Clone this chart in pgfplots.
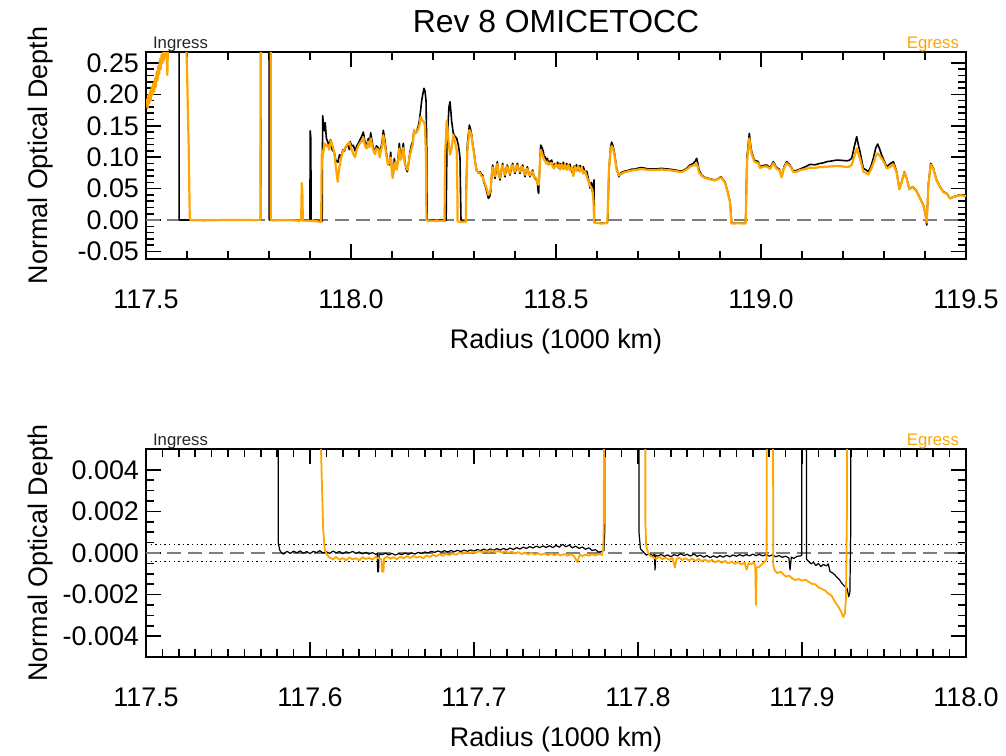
\documentclass[border=0pt]{standalone}
\usepackage{fontspec}
\setmainfont{Liberation Sans}
\usepackage{pgfplots}
\usepackage{pgfplotstable}
\pgfplotsset{compat=1.18}
\definecolor{egr}{RGB}{255,165,0}
\definecolor{zgray}{RGB}{125,125,125}

\pgfplotstableread{
r t
117.5000 0.40
117.5806 0.40
117.5807 0.00047
117.5815 0.00015
117.5825 0.00002
117.5837 -0.00005
117.5860 0.00008
117.5880 -0.00002
117.5900 0.00009
117.5920 0.00001
117.5940 0.00010
117.5960 -0.00001
117.5980 0.00007
117.6000 -0.00003
117.6020 0.00008
117.6040 0.00002
117.6060 0.00011
117.6080 0.00000
117.6100 0.00006
117.6120 -0.00002
117.6140 0.00009
117.6160 0.00001
117.6180 0.00007
117.6200 -0.00003
117.6220 0.00006
117.6240 0.00000
117.6260 0.00008
117.6280 -0.00002
117.6300 0.00005
117.6320 -0.00004
117.6340 0.00003
117.6360 -0.00005
117.6380 0.00002
117.6400 -0.00006
117.6410 -0.00002
117.6413 -0.00090
117.6418 -0.00090
117.6421 -0.00004
117.6440 -0.00008
117.6460 -0.00001
117.6480 -0.00009
117.6500 -0.00002
117.6520 -0.00010
117.6540 -0.00003
117.6560 -0.00008
117.6580 0.00000
117.6600 -0.00007
117.6620 0.00001
117.6640 -0.00005
117.6660 0.00003
117.6680 -0.00003
117.6700 0.00005
117.6720 0.00000
117.6740 0.00008
117.6760 0.00003
117.6780 0.00010
117.6800 0.00004
117.6820 0.00011
117.6840 0.00005
117.6860 0.00012
117.6880 0.00006
117.6900 0.00013
117.6920 0.00007
117.6940 0.00014
117.6960 0.00008
117.6980 0.00015
117.7000 0.00009
117.7020 0.00017
117.7040 0.00011
117.7060 0.00019
117.7080 0.00012
117.7100 0.00020
117.7120 0.00013
117.7140 0.00021
117.7160 0.00014
117.7180 0.00022
117.7200 0.00015
117.7220 0.00024
117.7240 0.00017
117.7260 0.00026
117.7280 0.00019
117.7300 0.00028
117.7320 0.00022
117.7340 0.00031
117.7360 0.00024
117.7380 0.00033
117.7400 0.00026
117.7420 0.00034
117.7440 0.00027
117.7460 0.00035
117.7480 0.00026
117.7500 0.00036
117.7520 0.00028
117.7540 0.00042
117.7560 0.00030
117.7580 0.00038
117.7600 0.00025
117.7620 0.00033
117.7640 0.00022
117.7660 0.00029
117.7680 0.00018
117.7700 0.00025
117.7720 0.00012
117.7740 0.00016
117.7760 0.00004
117.7780 0.00008
117.7792 0.00012
117.7797 0.0010
117.7800 0.30
117.8004 0.30
117.8006 0.0010
117.8015 0.00020
117.8032 0.00006
117.8050 -0.00010
117.8070 -0.00004
117.8090 -0.00013
117.8100 -0.00006
117.8104 -0.00082
117.8108 -0.00010
117.8120 -0.00015
117.8140 -0.00007
117.8160 -0.00016
117.8180 -0.00009
117.8200 -0.00018
117.8220 -0.00008
117.8240 -0.00014
117.8260 -0.00003
117.8280 -0.00012
117.8300 -0.00006
117.8320 -0.00015
117.8340 -0.00004
117.8360 -0.00016
117.8380 -0.00010
117.8400 -0.00020
117.8420 -0.00012
117.8440 -0.00022
117.8460 -0.00014
117.8480 -0.00021
117.8500 -0.00013
117.8520 -0.00020
117.8540 -0.00011
117.8560 -0.00018
117.8580 -0.00009
117.8600 -0.00016
117.8620 -0.00008
117.8640 -0.00015
117.8660 -0.00007
117.8680 -0.00014
117.8700 -0.00005
117.8720 -0.00013
117.8740 -0.00006
117.8760 -0.00014
117.8780 -0.00008
117.8800 -0.00015
117.8820 -0.00009
117.8840 -0.00018
117.8860 -0.00012
117.8880 -0.00021
117.8900 -0.00015
117.8920 -0.00024
117.8927 -0.00082
117.8935 -0.00020
117.8950 -0.00026
117.8970 -0.00016
117.8990 -0.00014
117.8998 -0.00010
117.9005 0.142
117.9020 0.130
117.9028 -0.00030
117.9040 -0.00040
117.9055 -0.00052
117.9070 -0.00045
117.9085 -0.00060
117.9100 -0.00050
117.9115 -0.00065
117.9130 -0.00055
117.9150 -0.00062
117.9160 -0.00052
117.9171 -0.00090
117.9185 -0.00095
117.9200 -0.00105
117.9215 -0.00118
117.9230 -0.00130
117.9245 -0.00148
117.9260 -0.00160
117.9275 -0.00170
117.9285 -0.00210
117.9292 -0.00190
117.9297 0.00100
117.9300 0.060
117.9310 0.166
117.9330 0.150
117.9350 0.142
117.9370 0.155
117.9400 0.130
117.9430 0.125
117.9460 0.118
117.9500 0.128
117.9540 0.112
117.9590 0.108
117.9630 0.095
117.9680 0.092
117.9720 0.104
117.9760 0.100
117.9800 0.112
117.9840 0.110
117.9880 0.118
117.9920 0.121
117.9960 0.112
117.9976 0.125
118.0020 0.118
118.0057 0.119
118.0098 0.110
118.0140 0.118
118.0179 0.122
118.0220 0.128
118.0260 0.133
118.0301 0.140
118.0342 0.124
118.0382 0.119
118.0423 0.130
118.0450 0.120
118.0480 0.139
118.0529 0.119
118.0560 0.112
118.0586 0.109
118.0620 0.118
118.0667 0.115
118.0700 0.104
118.0724 0.113
118.0760 0.125
118.0789 0.143
118.0830 0.125
118.0870 0.104
118.0900 0.092
118.0935 0.088
118.0968 0.108
118.1000 0.080
118.1030 0.072
118.1057 0.098
118.1085 0.085
118.1114 0.082
118.1150 0.100
118.1179 0.122
118.1210 0.098
118.1236 0.104
118.1277 0.122
118.1310 0.095
118.1342 0.082
118.1374 0.077
118.1405 0.090
118.1439 0.109
118.1470 0.118
118.1504 0.125
118.1537 0.143
118.1570 0.138
118.1602 0.141
118.1643 0.150
118.1667 0.158
118.1700 0.176
118.1724 0.190
118.1750 0.200
118.1781 0.2097
118.1805 0.205
118.1830 0.190
118.1846 0.120
118.1856 0.000
118.1900 -0.0010
118.2000 0.0005
118.2100 -0.0005
118.2200 0.0005
118.2300 -0.0010
118.2320 0.0000
118.2340 0.120
118.2390 0.180
118.2415 0.1884
118.2440 0.170
118.2456 0.1566
118.2496 0.1380
118.2537 0.1330
118.2578 0.1301
118.2618 0.1194
118.2640 0.110
118.2659 0.0982
118.2670 0.050
118.2683 0.0000
118.2750 -0.0020
118.2800 -0.0010
118.2810 0.050
118.2838 0.120
118.2887 0.1513
118.2915 0.145
118.2943 0.1354
118.2970 0.120
118.3000 0.1088
118.3030 0.092
118.3065 0.0796
118.3105 0.075
118.3147 0.0770
118.3180 0.073
118.3211 0.0717
118.3240 0.060
118.3268 0.0557
118.3300 0.048
118.3350 0.0345
118.3380 0.037
118.3407 0.0451
118.3430 0.070
118.3455 0.0876
118.3485 0.078
118.3512 0.0663
118.3540 0.080
118.3569 0.0929
118.3600 0.075
118.3634 0.0637
118.3665 0.078
118.3699 0.0902
118.3725 0.080
118.3756 0.0690
118.3785 0.080
118.3813 0.0876
118.3845 0.080
118.3878 0.0717
118.3910 0.082
118.3943 0.0902
118.3970 0.081
118.4000 0.0743
118.4030 0.083
118.4057 0.0902
118.4090 0.082
118.4122 0.0743
118.4155 0.083
118.4187 0.0876
118.4215 0.078
118.4244 0.0690
118.4270 0.078
118.4301 0.0849
118.4335 0.075
118.4366 0.0690
118.4400 0.075
118.4431 0.0796
118.4460 0.070
118.4488 0.0663
118.4520 0.064
118.4545 0.0610
118.4565 0.045
118.4577 0.0425
118.4600 0.080
118.4626 0.1194
118.4660 0.115
118.4691 0.1088
118.4710 0.100
118.4732 0.1008
118.4760 0.095
118.4789 0.0982
118.4815 0.092
118.4838 0.0929
118.4865 0.094
118.4895 0.0955
118.4925 0.087
118.4952 0.0849
118.4976 0.0900
118.5000 0.0860
118.5040 0.092
118.5080 0.082
118.5100 0.090
118.5139 0.084
118.5180 0.092
118.5220 0.082
118.5260 0.090
118.5301 0.083
118.5340 0.089
118.5383 0.078
118.5423 0.072
118.5445 0.086
118.5464 0.082
118.5500 0.088
118.5545 0.079
118.5585 0.087
118.5626 0.080
118.5665 0.085
118.5708 0.076
118.5748 0.078
118.5789 0.066
118.5830 0.051
118.5860 0.060
118.5887 0.045
118.5927 0.064
118.5935 0.0000
118.5952 -0.0045
118.6100 -0.0050
118.6250 -0.0045
118.6260 0.000
118.6293 0.080
118.6330 0.115
118.6358 0.124
118.6390 0.118
118.6423 0.108
118.6480 0.082
118.6537 0.069
118.6570 0.074
118.6602 0.0759
118.6680 0.078
118.6765 0.079
118.6850 0.081
118.6927 0.0812
118.7000 0.0825
118.7090 0.0835
118.7170 0.0825
118.7252 0.0812
118.7330 0.0815
118.7415 0.0812
118.7500 0.0818
118.7577 0.0823
118.7660 0.0815
118.7740 0.0812
118.7820 0.0805
118.7903 0.0796
118.8000 0.0785
118.8065 0.0780
118.8130 0.080
118.8187 0.0823
118.8268 0.0876
118.8350 0.0902
118.8400 0.094
118.8431 0.0982
118.8460 0.090
118.8488 0.0796
118.8553 0.0717
118.8630 0.068
118.8716 0.0663
118.8800 0.065
118.8878 0.0637
118.8960 0.0663
118.9025 0.0690
118.9080 0.064
118.9122 0.0610
118.9187 0.0451
118.9244 0.0292
118.9268 0.010
118.9285 -0.0050
118.9450 -0.0048
118.9620 -0.0050
118.9626 0.000
118.9659 0.100
118.9716 0.138
118.9745 0.120
118.9773 0.1088
118.9838 0.0955
118.9935 0.0929
118.9976 0.0849
119.0060 0.087
119.0139 0.0876
119.0220 0.0833
119.0301 0.0929
119.0383 0.0833
119.0448 0.0812
119.0504 0.0690
119.0561 0.0849
119.0626 0.0929
119.0708 0.0876
119.0789 0.0780
119.0870 0.0790
119.0952 0.0812
119.1070 0.0845
119.1195 0.0886
119.1320 0.0880
119.1439 0.0902
119.1520 0.0910
119.1602 0.0929
119.1720 0.0940
119.1846 0.0955
119.1970 0.0950
119.2090 0.0943
119.2150 0.0950
119.2212 0.0982
119.2269 0.115
119.2334 0.1327
119.2380 0.118
119.2415 0.1088
119.2496 0.0823
119.2560 0.080
119.2618 0.0770
119.2680 0.085
119.2740 0.0982
119.2800 0.115
119.2846 0.1210
119.2900 0.112
119.2943 0.1035
119.3000 0.095
119.3065 0.0849
119.3163 0.0902
119.3228 0.0929
119.3270 0.085
119.3309 0.0770
119.3374 0.0494
119.3431 0.0610
119.3496 0.0770
119.3553 0.0663
119.3618 0.0494
119.3699 0.0531
119.3781 0.0478
119.3862 0.0371
119.3960 0.0239
119.4008 0.0106
119.4041 -0.0080
119.4081 0.0557
119.4138 0.0902
119.4203 0.0823
119.4285 0.0637
119.4366 0.0531
119.4447 0.0451
119.4528 0.0425
119.4610 0.0345
119.4691 0.0371
119.4854 0.0398
119.5000 0.0387
}\ingress

\pgfplotstableread{
r t
117.5000 0.182
117.5020 0.192
117.5040 0.178
117.5060 0.199
117.5080 0.186
117.5100 0.205
117.5120 0.190
117.5140 0.212
117.5160 0.200
117.5180 0.218
117.5200 0.204
117.5220 0.226
117.5240 0.212
117.5260 0.236
117.5280 0.222
117.5300 0.245
117.5320 0.232
117.5340 0.256
117.5360 0.240
117.5380 0.263
117.5400 0.250
117.5420 0.268
117.5440 0.255
117.5460 0.272
117.5480 0.262
117.5500 0.285
117.5520 0.231
117.5540 0.290
117.5560 0.330
117.5960 0.330
117.6000 0.240
117.6040 0.120
117.6067 0.0050
117.6080 0.0012
117.6090 0.00015
117.6105 -0.00010
117.6120 -0.00022
117.6140 -0.00030
117.6160 -0.00019
117.6180 -0.00033
117.6200 -0.00024
117.6220 -0.00036
117.6240 -0.00021
117.6260 -0.00031
117.6280 -0.00025
117.6300 -0.00035
117.6320 -0.00020
117.6340 -0.00029
117.6360 -0.00023
117.6380 -0.00032
117.6400 -0.00019
117.6420 -0.00027
117.6436 -0.00030
117.6440 -0.00090
117.6448 -0.00090
117.6452 -0.00025
117.6470 -0.00018
117.6490 -0.00028
117.6510 -0.00020
117.6530 -0.00030
117.6550 -0.00017
117.6570 -0.00026
117.6590 -0.00015
117.6610 -0.00024
117.6630 -0.00013
117.6650 -0.00022
117.6670 -0.00016
117.6690 -0.00026
117.6710 -0.00012
117.6730 -0.00019
117.6750 -0.00008
117.6770 -0.00016
117.6790 -0.00006
117.6810 -0.00013
117.6830 -0.00004
117.6850 -0.00011
117.6870 -0.00002
117.6890 -0.00009
117.6910 0.00002
117.6930 -0.00004
117.6950 0.00004
117.6970 -0.00002
117.6990 0.00006
117.7010 0.00001
117.7030 0.00009
117.7050 0.00003
117.7070 0.00011
117.7090 0.00004
117.7110 0.00012
117.7130 0.00005
117.7150 0.00010
117.7170 0.00002
117.7190 0.00009
117.7210 0.00000
117.7230 0.00007
117.7250 -0.00002
117.7270 0.00004
117.7290 -0.00005
117.7310 0.00002
117.7330 -0.00007
117.7350 0.00001
117.7370 -0.00008
117.7390 -0.00001
117.7410 -0.00009
117.7430 -0.00002
117.7450 -0.00010
117.7470 -0.00003
117.7490 -0.00011
117.7510 -0.00004
117.7530 -0.00012
117.7550 -0.00005
117.7570 -0.00013
117.7590 -0.00006
117.7610 -0.00014
117.7630 -0.00044
117.7645 -0.00008
117.7660 -0.00015
117.7680 -0.00007
117.7700 -0.00013
117.7720 -0.00006
117.7740 -0.00012
117.7760 -0.00005
117.7780 -0.00009
117.7788 0.00020
117.7792 0.0015
117.7800 0.30
117.8040 0.30
117.8045 0.0015
117.8050 0.00035
117.8060 0.00005
117.8073 -0.00013
117.8090 -0.00020
117.8110 -0.00028
117.8130 -0.00018
117.8150 -0.00030
117.8170 -0.00022
117.8190 -0.00033
117.8210 -0.00024
117.8225 -0.00070
117.8235 -0.00030
117.8250 -0.00022
117.8270 -0.00034
117.8290 -0.00025
117.8310 -0.00036
117.8330 -0.00027
117.8350 -0.00038
117.8370 -0.00028
117.8390 -0.00040
117.8410 -0.00031
117.8430 -0.00043
117.8450 -0.00033
117.8470 -0.00045
117.8490 -0.00036
117.8510 -0.00047
117.8530 -0.00038
117.8550 -0.00050
117.8570 -0.00040
117.8590 -0.00052
117.8610 -0.00043
117.8630 -0.00055
117.8650 -0.00046
117.8662 -0.00080
117.8675 -0.00048
117.8690 -0.00054
117.8705 -0.00045
117.8715 -0.00060
117.8719 -0.00250
117.8723 -0.00070
117.8740 -0.00066
117.8760 -0.00050
117.8775 -0.00040
117.8784 -0.00030
117.8800 0.059
117.8815 0.040
117.8825 -0.00060
117.8835 -0.00085
117.8850 -0.00097
117.8870 -0.00090
117.8890 -0.00105
117.8906 -0.00114
117.8920 -0.00108
117.8940 -0.00122
117.8960 -0.00130
117.8980 -0.00125
117.9000 -0.00133
117.9020 -0.00128
117.9040 -0.00138
117.9060 -0.00148
117.9080 -0.00150
117.9100 -0.00165
117.9120 -0.00172
117.9140 -0.00180
117.9160 -0.00195
117.9180 -0.00205
117.9195 -0.00226
117.9210 -0.00245
117.9225 -0.00262
117.9240 -0.00285
117.9252 -0.00308
117.9262 -0.00290
117.9268 -0.00220
117.9274 0.00200
117.9280 0.060
117.9290 0.110
117.9310 0.100
117.9350 0.122
117.9390 0.118
117.9430 0.120
117.9470 0.112
117.9510 0.127
117.9550 0.118
117.9590 0.108
117.9630 0.085
117.9675 0.061
117.9710 0.082
117.9756 0.098
117.9800 0.110
117.9837 0.112
117.9880 0.118
117.9919 0.120
117.9960 0.124
118.0000 0.115
118.0057 0.105
118.0098 0.100
118.0140 0.112
118.0179 0.118
118.0220 0.123
118.0260 0.125
118.0301 0.132
118.0342 0.118
118.0382 0.114
118.0423 0.125
118.0450 0.116
118.0480 0.130
118.0529 0.115
118.0560 0.108
118.0586 0.105
118.0620 0.114
118.0667 0.112
118.0700 0.100
118.0724 0.108
118.0760 0.118
118.0789 0.135
118.0830 0.118
118.0870 0.100
118.0900 0.088
118.0935 0.092
118.0968 0.100
118.1000 0.075
118.1017 0.067
118.1057 0.090
118.1085 0.092
118.1114 0.080
118.1150 0.095
118.1179 0.114
118.1210 0.096
118.1236 0.100
118.1277 0.115
118.1310 0.090
118.1342 0.085
118.1374 0.080
118.1405 0.092
118.1439 0.104
118.1470 0.112
118.1504 0.120
118.1537 0.143
118.1570 0.138
118.1602 0.140
118.1643 0.145
118.1667 0.150
118.1700 0.1645
118.1724 0.160
118.1748 0.158
118.1781 0.156
118.1805 0.150
118.1830 0.100
118.1840 0.000
118.1900 -0.0015
118.2000 -0.0010
118.2100 -0.0015
118.2200 -0.0012
118.2280 -0.0015
118.2293 0.100
118.2334 0.158
118.2374 0.128
118.2415 0.104
118.2456 0.115
118.2496 0.1354
118.2537 0.1248
118.2578 0.110
118.2594 0.050
118.2600 -0.0020
118.2700 -0.0030
118.2800 -0.0030
118.2810 0.040
118.2838 0.110
118.2887 0.1433
118.2915 0.140
118.2943 0.132
118.2970 0.118
118.3000 0.106
118.3030 0.090
118.3065 0.078
118.3105 0.076
118.3147 0.0750
118.3180 0.070
118.3211 0.0690
118.3240 0.062
118.3268 0.0580
118.3300 0.052
118.3350 0.040
118.3380 0.043
118.3407 0.050
118.3430 0.072
118.3455 0.084
118.3485 0.075
118.3512 0.070
118.3540 0.084
118.3569 0.089
118.3600 0.072
118.3634 0.067
118.3665 0.082
118.3699 0.087
118.3725 0.076
118.3756 0.072
118.3785 0.084
118.3813 0.085
118.3845 0.076
118.3878 0.074
118.3910 0.086
118.3943 0.087
118.3970 0.078
118.4000 0.077
118.4030 0.086
118.4057 0.087
118.4090 0.079
118.4122 0.077
118.4155 0.085
118.4187 0.084
118.4215 0.075
118.4244 0.072
118.4270 0.080
118.4301 0.082
118.4335 0.073
118.4366 0.071
118.4400 0.077
118.4431 0.077
118.4460 0.068
118.4488 0.068
118.4520 0.066
118.4545 0.058
118.4577 0.056
118.4600 0.078
118.4626 0.112
118.4660 0.106
118.4691 0.100
118.4710 0.096
118.4732 0.095
118.4760 0.090
118.4789 0.093
118.4815 0.088
118.4838 0.090
118.4865 0.089
118.4895 0.091
118.4925 0.084
118.4952 0.082
118.4976 0.086
118.5000 0.090
118.5040 0.084
118.5080 0.088
118.5100 0.080
118.5139 0.089
118.5180 0.081
118.5220 0.089
118.5260 0.080
118.5301 0.088
118.5340 0.079
118.5383 0.084
118.5423 0.070
118.5445 0.080
118.5464 0.085
118.5500 0.078
118.5545 0.086
118.5585 0.077
118.5626 0.084
118.5665 0.074
118.5708 0.078
118.5748 0.070
118.5789 0.062
118.5830 0.055
118.5860 0.052
118.5887 0.048
118.5915 0.030
118.5930 -0.0040
118.6100 -0.0055
118.6240 -0.0050
118.6255 0.000
118.6290 0.078
118.6330 0.110
118.6358 0.118
118.6390 0.114
118.6423 0.104
118.6480 0.080
118.6537 0.071
118.6570 0.072
118.6602 0.0740
118.6680 0.0765
118.6765 0.0775
118.6850 0.0790
118.6927 0.0795
118.7000 0.0805
118.7090 0.0812
118.7170 0.0805
118.7252 0.0795
118.7330 0.0798
118.7415 0.0795
118.7500 0.0800
118.7577 0.0805
118.7660 0.0798
118.7740 0.0795
118.7820 0.0788
118.7903 0.0780
118.8000 0.0770
118.8065 0.0765
118.8130 0.0785
118.8187 0.0805
118.8268 0.0850
118.8350 0.0870
118.8400 0.087
118.8431 0.090
118.8460 0.084
118.8488 0.0760
118.8553 0.0705
118.8630 0.067
118.8716 0.0655
118.8800 0.064
118.8878 0.0630
118.8960 0.0655
118.9025 0.0680
118.9080 0.063
118.9122 0.0600
118.9187 0.0445
118.9244 0.0285
118.9262 0.010
118.9278 -0.0055
118.9450 -0.0052
118.9620 -0.0055
118.9628 0.000
118.9662 0.095
118.9716 0.130
118.9745 0.115
118.9773 0.1050
118.9838 0.0930
118.9935 0.0905
118.9976 0.0830
119.0060 0.085
119.0139 0.0855
119.0220 0.0815
119.0301 0.0905
119.0383 0.0815
119.0448 0.0795
119.0504 0.0680
119.0561 0.0830
119.0626 0.0905
119.0708 0.0860
119.0789 0.0765
119.0870 0.0770
119.0952 0.0796
119.1070 0.0810
119.1195 0.0833
119.1320 0.0830
119.1439 0.0844
119.1520 0.0845
119.1602 0.0849
119.1720 0.0855
119.1846 0.0860
119.1970 0.0855
119.2090 0.0844
119.2150 0.0850
119.2212 0.0876
119.2269 0.100
119.2334 0.1141
119.2380 0.105
119.2415 0.0982
119.2496 0.0770
119.2560 0.075
119.2618 0.0727
119.2680 0.080
119.2740 0.0902
119.2800 0.102
119.2846 0.1062
119.2900 0.102
119.2943 0.0982
119.3000 0.092
119.3065 0.0823
119.3163 0.0849
119.3228 0.0886
119.3270 0.082
119.3309 0.0750
119.3374 0.0494
119.3431 0.0600
119.3496 0.0760
119.3553 0.0655
119.3618 0.0490
119.3699 0.0525
119.3781 0.0470
119.3862 0.0365
119.3960 0.0230
119.4008 0.0110
119.4041 -0.0040
119.4081 0.0530
119.4138 0.0880
119.4203 0.0810
119.4285 0.0625
119.4366 0.0525
119.4447 0.0445
119.4528 0.0420
119.4610 0.0340
119.4691 0.0365
119.4854 0.0395
119.5000 0.0385
}\egress

\pgfplotsset{
  occ/.style={
    scale only axis,
    width=410bp,
    axis line style={line width=1bp},
    tick style={black, line width=0.8bp},
    major tick length=7.5bp,
    minor tick length=4bp,
    tick align=inside,
    scaled ticks=false,
    /pgf/number format/assume math mode=true,
    /pgf/number format/1000 sep={},
    tick label style={font=\fontsize{13.5}{15}\selectfont},
    xticklabel style={anchor=base, yshift=-24.5bp,
      /pgf/number format/fixed, /pgf/number format/fixed zerofill, /pgf/number format/precision=1},
    label style={font=\fontsize{13.5}{15}\selectfont},
    xlabel={Radius (1000 km)},
    ylabel={Normal Optical Depth},
    xlabel style={at={(axis description cs:0.5,0)}, anchor=base, yshift=-44.5bp},
    ylabel style={at={(axis description cs:-0.128,0.5)}, anchor=center},
  },
  blk/.style={black, line width=0.8bp, line join=round},
  org/.style={egr, line width=1.1bp, line join=round},
}

\begin{document}
\begin{tikzpicture}
\useasboundingbox (0,0) rectangle (503bp,-378bp);
\begin{axis}[occ, name=top,
  at={(73bp,-26bp)}, anchor=north west, height=103.5bp,
  xmin=117.5, xmax=119.5, ymin=-0.062, ymax=0.2675,
  xtick={117.5,118,118.5,119,119.5}, minor x tick num=4,
  ytick={-0.05,0,0.05,0.1,0.15,0.2,0.25}, minor y tick num=4,
  yticklabel style={/pgf/number format/fixed, /pgf/number format/fixed zerofill, /pgf/number format/precision=2},
]
\addplot[zgray, line width=1bp, dash pattern=on 7bp off 3.5bp] coordinates {(117.5,0) (119.5,0)};
\addplot[blk] table[x=r, y=t] {\ingress};
\addplot[org] table[x=r, y=t] {\egress};
\end{axis}
\node[anchor=base, font=\fontsize{16}{18}\selectfont] at ([yshift=10bp]top.north) {Rev 8 OMICETOCC};
\node[anchor=base west, font=\fontsize{8.4}{9}\selectfont, text=black!85] at ([yshift=2bp]top.north west) {Ingress};
\node[anchor=base east, font=\fontsize{8.4}{9}\selectfont, text=egr] at ([yshift=2bp]top.north east) {Egress};

\begin{axis}[occ, name=bot,
  at={(73bp,-224.5bp)}, anchor=north west, height=104bp,
  xmin=117.5, xmax=118.0, ymin=-0.005, ymax=0.005,
  xtick={117.5,117.6,117.7,117.8,117.9,118.0}, minor x tick num=9,
  ytick={-0.004,-0.002,0,0.002,0.004}, minor y tick num=3,
  yticklabel style={/pgf/number format/fixed, /pgf/number format/fixed zerofill, /pgf/number format/precision=3},
]
\addplot[black, line width=0.6bp, dash pattern=on 0.7bp off 1.6bp] coordinates {(117.5,0.00042) (118.0,0.00042)};
\addplot[black, line width=0.6bp, dash pattern=on 0.7bp off 1.6bp] coordinates {(117.5,-0.00040) (118.0,-0.00040)};
\addplot[zgray, line width=1bp, dash pattern=on 7bp off 3.5bp] coordinates {(117.5,0) (118.0,0)};
\addplot[black, line width=0.6bp, line join=round] table[x=r, y=t] {\ingress};
\addplot[egr, line width=0.9bp, line join=round] table[x=r, y=t] {\egress};
\end{axis}
\node[anchor=base west, font=\fontsize{8.4}{9}\selectfont, text=black!85] at ([yshift=2bp]bot.north west) {Ingress};
\node[anchor=base east, font=\fontsize{8.4}{9}\selectfont, text=egr] at ([yshift=2bp]bot.north east) {Egress};
\end{tikzpicture}
\end{document}
